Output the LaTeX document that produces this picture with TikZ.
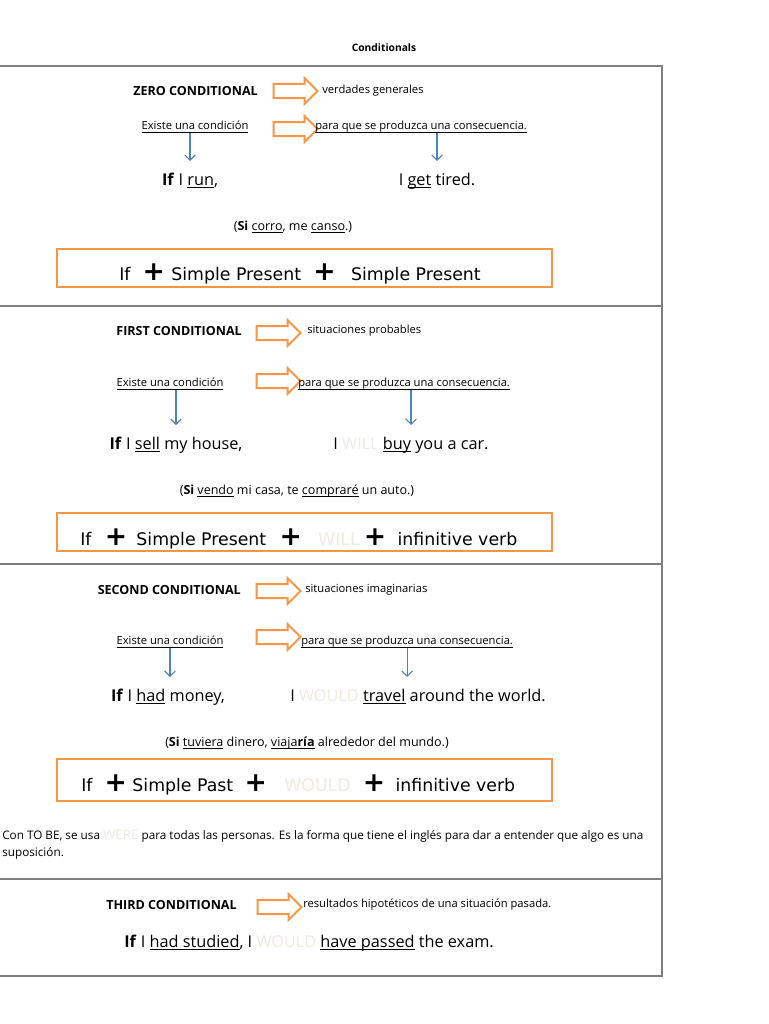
\documentclass[tikz,border=0pt]{standalone}
\usepackage{fontspec}
\setmainfont{Open Sans}
\newfontfamily\recipefont{DejaVu Sans}
\usepackage{xcolor}
\usetikzlibrary{positioning,arrows.meta,shapes.arrows}
\definecolor{accent}{HTML}{F79646}
\definecolor{arrowblue}{HTML}{4F81BD}
\definecolor{faint}{HTML}{EEECE1}
\definecolor{framegray}{HTML}{7F7F7F}
\newcommand{\undl}[1]{\underline{\raisebox{0pt}[\height][0pt]{#1}}}
\newcommand{\faintword}[1]{\textcolor{faint}{#1}}
\newcommand{\plus}{{\fontsize{20}{20}\selectfont\bfseries +}}

\begin{document}
\begin{tikzpicture}[x=0.75pt, y=-0.75pt, font=\fontsize{8.4}{10}\selectfont,
  title/.style={font=\fontsize{7.7}{9}\selectfont\bfseries, inner sep=0pt},
  head/.style={font=\fontsize{9.4}{10}\selectfont\bfseries, anchor=east, inner sep=0pt, text height=6.6pt, text depth=0pt},
  note/.style={anchor=west, inner sep=0pt, text height=6.2pt, text depth=1.8pt},
  cond/.style={inner sep=0pt, text height=6.2pt, text depth=1.8pt},
  remark/.style={anchor=west, inner sep=0pt, align=left, font=\fontsize{8.8}{12.75}\selectfont},
  sentence/.style={font=\fontsize{12.2}{14}\selectfont, inner sep=0pt, text height=9pt, text depth=2.6pt},
  gloss/.style={font=\fontsize{9.4}{11}\selectfont, inner sep=0pt, text height=7pt, text depth=2.2pt},
  harrow/.style={single arrow, draw=accent, line width=1.5pt, fill=white, minimum height=33pt, minimum width=19pt, single arrow head extend=4.5pt, inner sep=4.5pt},
  pointer/.style={draw=arrowblue, line width=0.8pt, -{Straight Barb[length=4pt, width=8pt]}, shorten >=9pt},
  recipe/.style={draw=accent, line width=1.5pt, minimum width=371pt, minimum height=28.5pt, inner sep=0pt},
  recipetext/.style={anchor=base west, inner sep=0pt, font=\recipefont\fontsize{13}{15}\selectfont},
  frameline/.style={draw=framegray, line width=1.5pt}]
\useasboundingbox (0,0) rectangle (768,1024);
\fill[white] (0,0) rectangle (768,1024);

% frame and dividers
\draw[frameline] (0,66) -- (662,66) -- (662,976) -- (0,976);
\foreach \y in {306,564,879} \draw[frameline] (0,\y) -- (662,\y);

\node[title] (ttl) at (384,48) {Conditionals};

% zero conditional
\node[head] (zero) at (258,91) {ZERO CONDITIONAL};
\node[harrow] (zarr) at (292,91) {};
\node[note] (zdef) at (322,91) {verdades generales};
\node[cond] (zcond) at (195,127) {\undl{Existe una condición}};
\node[harrow] (zarr2) at (292,129) {};
\node[note] (zcons) at (315,127) {\undl{para que se produzca una consecuencia.}};
\node[sentence] (zif) at (190,181) {\textbf{If} I \undl{run},};
\node[sentence] (zres) at (437,181) {I \undl{get} tired.};
\node[gloss] (zgloss) at (293,227) {(\textbf{Si} \undl{corro}, me \undl{canso}.)};
\draw[pointer] (zcond.south -| zif) -- (zif.north);
\draw[pointer] (zcons.south -| zres) -- (zres.north);
\node[recipe] (zbox) at (304.5,268) {};
\node[recipetext] (zform) at (119,280) {If\hspace{9.2pt}\plus\hspace{4.7pt}Simple Present\hspace{9.2pt}\plus\hspace{11.5pt}Simple Present};

% first conditional
\node[head] (first) at (242,331) {FIRST CONDITIONAL};
\node[harrow] (farr) at (275,333) {};
\node[note] (fdef) at (307,331) {situaciones probables};
\node[cond] (fcond) at (170,384) {\undl{Existe una condición}};
\node[harrow] (farr2) at (275,381) {};
\node[note] (fcons) at (298,384) {\undl{para que se produzca una consecuencia.}};
\node[sentence] (fif) at (176,445) {\textbf{If} I \undl{sell} my house,};
\node[sentence] (fres) at (411,445) {I \faintword{WILL} \undl{buy} you a car.};
\node[gloss] (fgloss) at (297,491) {(\textbf{Si} \undl{vendo} mi casa, te \undl{compraré} un auto.)};
\draw[pointer] (fcond.south -| fif) -- (fif.north);
\draw[pointer] (fcons.south -| fres) -- (fres.north);
\node[recipe] (fbox) at (304.5,532) {};
\node[recipetext] (fform) at (80,545) {If\hspace{10pt}\plus\hspace{7pt}Simple Present\hspace{10pt}\plus\hspace{12.2pt}\faintword{WILL}\hspace{3.2pt}\plus\hspace{8.5pt}infinitive verb};

% second conditional
\node[head] (second) at (241,590) {SECOND CONDITIONAL};
\node[harrow] (sarr) at (275,591) {};
\node[note] (sdef) at (305,590) {situaciones imaginarias};
\node[cond] (scond) at (170,642) {\undl{Existe una condición}};
\node[harrow] (sarr2) at (275,637) {};
\node[note] (scons) at (301,642) {\undl{para que se produzca una consecuencia.}};
\node[sentence] (sif) at (168,697) {\textbf{If} I \undl{had} money,};
\node[sentence] (sres) at (418,697) {I \faintword{WOULD} \undl{travel} around the world.};
\node[gloss] (sgloss) at (307,743) {(\textbf{Si} \undl{tuviera} dinero, \undl{viaja\textbf{ría}} alrededor del mundo.)};
\draw[pointer] (scond.south) -- (scond.south |- sif.north);
\draw[pointer] (scons.south) -- (scons.south |- sres.north);
\node[recipe, minimum height=31.5pt] (sbox) at (304.5,780) {};
\node[recipetext] (sform) at (81,791) {If\hspace{9.2pt}\plus\hspace{4pt}Simple Past\hspace{8.5pt}\plus\hspace{13pt}\faintword{WOULD}\hspace{9.2pt}\plus\hspace{7.7pt}infinitive verb};
\node[remark] (were) at (2,845) {Con TO BE, se usa {\fontsize{10}{10}\selectfont\faintword{WERE}} para todas las personas. Es la forma que tiene el inglés para dar a entender que algo es una\\suposición.};

% third conditional
\node[head] (third) at (237,905) {THIRD CONDITIONAL};
\node[harrow] (tarr) at (276,907) {};
\node[note] (tdef) at (303,905) {resultados hipotéticos de una situación pasada.};
\node[sentence] (tif) at (309,943) {\textbf{If} I \undl{had studied}, I \faintword{WOULD} \undl{have passed} the exam.};
\end{tikzpicture}
\end{document}
